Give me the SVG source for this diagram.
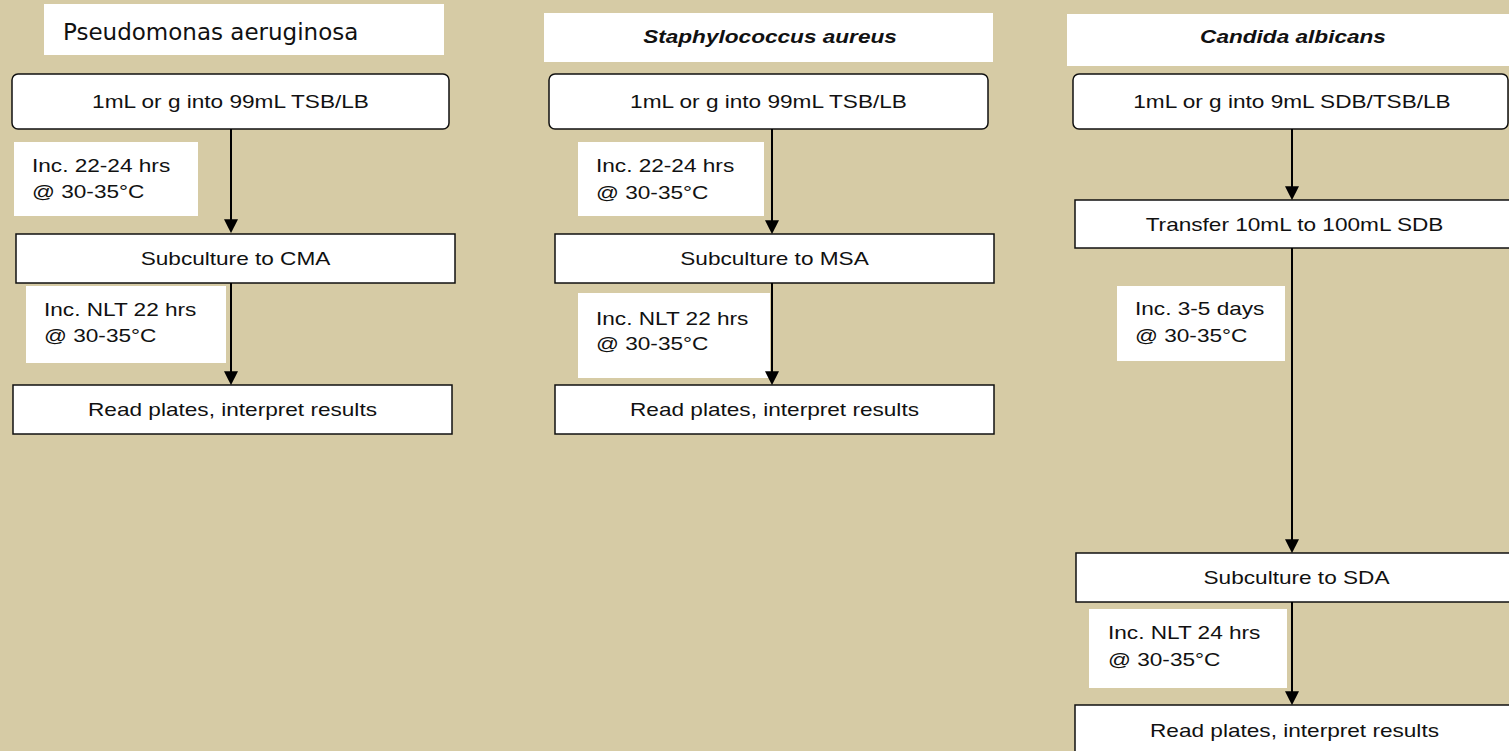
<svg xmlns="http://www.w3.org/2000/svg" width="1509" height="751" viewBox="0 0 1509 751">
<style>
.bg{fill:#D6CBA5}
.white{fill:#fff;stroke:none}
.box{fill:#fff;stroke:#111;stroke-width:1.5}
.t{font-family:"Liberation Sans",Arial,sans-serif;font-size:19px;fill:#111}
.c{text-anchor:middle}
.bi{font-weight:bold;font-style:italic}
.title{font-family:"DejaVu Sans",Tahoma,sans-serif;font-size:23px;fill:#111}
.conn{stroke:#000;stroke-width:2;fill:none;marker-end:url(#arr)}
</style>
<defs>
<marker id="arr" markerUnits="userSpaceOnUse" markerWidth="14" markerHeight="14" viewBox="0 0 13 13" refX="11" refY="6.5" orient="auto">
<path d="M0,0 L13,6.5 L0,13 z" fill="#000"/>
</marker>
</defs>
<rect class="bg" x="0" y="0" width="1509" height="751"/>

<g id="col1-title"><rect class="white" x="44" y="4" width="400" height="51"/><text class="title" x="63" y="40">Pseudomonas aeruginosa</text></g>
<g id="col1-start"><rect class="box" x="12" y="74" width="437" height="55" rx="6"/><text class="t c" transform="translate(230.5 108) scale(1.19 1)">1mL or g into 99mL TSB/LB</text></g>
<g id="col1-inc1"><rect class="white" x="14" y="142" width="184" height="74"/><text class="t" transform="translate(32 172) scale(1.19 1)">Inc. 22-24 hrs</text><text class="t" transform="translate(32 198) scale(1.19 1)">@ 30-35°C</text></g>
<g id="col1-sub"><rect class="box" x="16" y="234" width="439" height="49"/><text class="t c" transform="translate(235.5 265) scale(1.19 1)">Subculture to CMA</text></g>
<g id="col1-inc2"><rect class="white" x="26" y="286" width="200" height="77"/><text class="t" transform="translate(44 316) scale(1.19 1)">Inc. NLT 22 hrs</text><text class="t" transform="translate(44 342) scale(1.19 1)">@ 30-35°C</text></g>
<g id="col1-read"><rect class="box" x="13" y="385" width="439" height="49"/><text class="t c" transform="translate(232.5 416) scale(1.19 1)">Read plates, interpret results</text></g>

<g id="col2-title"><rect class="white" x="544" y="13" width="449" height="49"/><text class="t c bi" transform="translate(770 43) scale(1.19 1)">Staphylococcus aureus</text></g>
<g id="col2-start"><rect class="box" x="549" y="74" width="439" height="55" rx="6"/><text class="t c" transform="translate(768.5 108) scale(1.19 1)">1mL or g into 99mL TSB/LB</text></g>
<g id="col2-inc1"><rect class="white" x="578" y="142" width="186" height="74"/><text class="t" transform="translate(596 172) scale(1.19 1)">Inc. 22-24 hrs</text><text class="t" transform="translate(596 199) scale(1.19 1)">@ 30-35°C</text></g>
<g id="col2-sub"><rect class="box" x="555" y="234" width="439" height="49"/><text class="t c" transform="translate(774.5 265) scale(1.19 1)">Subculture to MSA</text></g>
<g id="col2-inc2"><rect class="white" x="578" y="293" width="192" height="85"/><text class="t" transform="translate(596 325) scale(1.19 1)">Inc. NLT 22 hrs</text><text class="t" transform="translate(596 350) scale(1.19 1)">@ 30-35°C</text></g>
<g id="col2-read"><rect class="box" x="555" y="385" width="439" height="49"/><text class="t c" transform="translate(774.5 416) scale(1.19 1)">Read plates, interpret results</text></g>

<g id="col3-title"><rect class="white" x="1067" y="14" width="450" height="52"/><text class="t c bi" transform="translate(1293 43) scale(1.19 1)">Candida albicans</text></g>
<g id="col3-start"><rect class="box" x="1073" y="74" width="435" height="55" rx="6"/><text class="t c" transform="translate(1292 108) scale(1.19 1)">1mL or g into 9mL SDB/TSB/LB</text></g>
<g id="col3-transfer"><rect class="box" x="1075" y="200" width="445" height="48"/><text class="t c" transform="translate(1294.5 231) scale(1.19 1)">Transfer 10mL to 100mL SDB</text></g>
<g id="col3-inc1"><rect class="white" x="1117" y="286" width="168" height="75"/><text class="t" transform="translate(1135 315) scale(1.19 1)">Inc. 3-5 days</text><text class="t" transform="translate(1135 342) scale(1.19 1)">@ 30-35°C</text></g>
<g id="col3-sub"><rect class="box" x="1076" y="553" width="445" height="49"/><text class="t c" transform="translate(1296.5 584) scale(1.19 1)">Subculture to SDA</text></g>
<g id="col3-inc2"><rect class="white" x="1089" y="609" width="198" height="79"/><text class="t" transform="translate(1108 639) scale(1.19 1)">Inc. NLT 24 hrs</text><text class="t" transform="translate(1108 666) scale(1.19 1)">@ 30-35°C</text></g>
<g id="col3-read"><rect class="box" x="1075" y="705" width="445" height="60"/><text class="t c" transform="translate(1294.5 737) scale(1.19 1)">Read plates, interpret results</text></g>

<g id="connectors">
<line class="conn" x1="231" y1="129" x2="231" y2="231"/>
<line class="conn" x1="231" y1="283" x2="231" y2="383"/>
<line class="conn" x1="772" y1="129" x2="772" y2="232"/>
<line class="conn" x1="772" y1="283" x2="772" y2="383"/>
<line class="conn" x1="1292" y1="129" x2="1292" y2="198"/>
<line class="conn" x1="1292" y1="248" x2="1292" y2="551"/>
<line class="conn" x1="1292" y1="602" x2="1292" y2="703"/>
</g>
</svg>
